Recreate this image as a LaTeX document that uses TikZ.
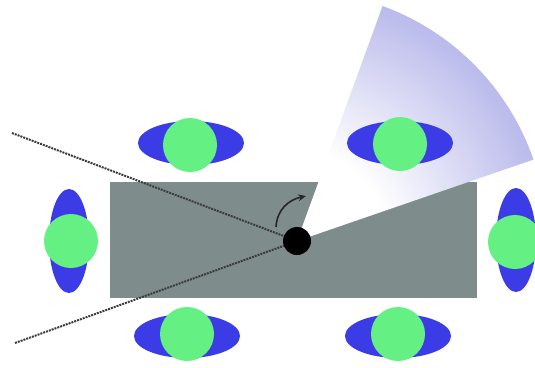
\documentclass[tikz,border=0pt]{standalone}
\usetikzlibrary{shapes.geometric,arrows.meta,calc}
\definecolor{bodygray}{RGB}{127,140,140}
\definecolor{wheelblue}{RGB}{60,60,230}
\definecolor{wheelgreen}{RGB}{100,240,130}
\definecolor{lav}{RGB}{186,186,236}
\definecolor{dotline}{RGB}{60,60,60}
\pgfdeclareradialshading{sectorshade}{\pgfpoint{0bp}{0bp}}{color(0bp)=(white); color(9bp)=(white); color(25bp)=(lav); color(50bp)=(lav)}
\tikzset{
  hwheel/.style={ellipse, fill=wheelblue, inner sep=0pt, minimum width=106pt, minimum height=44pt},
  vwheel/.style={ellipse, fill=wheelblue, inner sep=0pt, minimum width=40pt, minimum height=104pt},
  hub/.style={circle, fill=wheelgreen, inner sep=0pt, minimum size=54pt},
  sensorline/.style={dotline, line width=2pt, densely dotted},
  turnarrow/.style={black!85, line width=1.6pt, -{Stealth[length=8pt,width=7pt]}}
}
\begin{document}
\begin{tikzpicture}[x=1pt,y=-1pt]
\useasboundingbox (0,0) rectangle (535,367);
% body
\fill[bodygray] (110,182) rectangle (477,298);
% sensor sector
\coordinate (apex) at (297,241);
\begin{scope}
  \clip (apex) -- ($(apex)+(-70:400)$) -- ($(apex)+(-45:500)$) -- ($(apex)+(-19:400)$) -- cycle;
  \shade[shading=sectorshade] (apex) circle[radius=250pt];
\end{scope}
% dotted lines
\coordinate (la) at (12,133);
\coordinate (lb) at (15,343);
\draw[sensorline] (la) -- (apex);
\draw[sensorline] (lb) -- (apex);
% arrow
\coordinate (as) at (276,227);
\coordinate (ae) at (306,196);
\draw[turnarrow] (as) .. controls (277,210) and (288,200) .. (ae);
% pivot
\node[circle, fill=black, inner sep=0pt, minimum size=28pt] (dot) at (apex) {};
% wheels
\node[hwheel] (w1e) at (191,143) {};
\node[hub] (w1) at (190,145) {};
\node[hwheel] (w2e) at (400,143) {};
\node[hub] (w2) at (400,144) {};
\node[vwheel] (w3e) at (69,241) {};
\node[hub] (w3) at (71,241) {};
\node[vwheel] (w4e) at (516,240) {};
\node[hub] (w4) at (515,242) {};
\node[hwheel] (w5e) at (187,336) {};
\node[hub] (w5) at (187,334) {};
\node[hwheel] (w6e) at (398,336) {};
\node[hub] (w6) at (398,334) {};
\end{tikzpicture}
\end{document}
